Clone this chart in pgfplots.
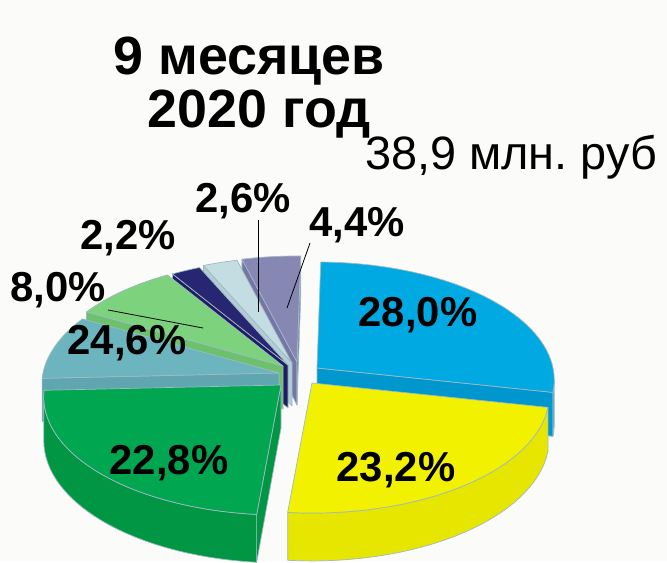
\documentclass[border=0pt]{standalone}
\usepackage{pgfplots}
\pgfplotsset{compat=1.18}
\usepackage{fontspec}
\setmainfont{Liberation Sans}
\frenchspacing

\definecolor{bg}{RGB}{251,251,249}
\definecolor{edgec}{RGB}{160,185,195}
\definecolor{blueT}{RGB}{0,169,226}
\definecolor{blueS}{RGB}{0,150,206}
\definecolor{yellowT}{RGB}{242,242,0}
\definecolor{yellowS}{RGB}{230,230,0}
\definecolor{greenT}{RGB}{0,166,80}
\definecolor{greenS}{RGB}{0,150,68}
\definecolor{tealT}{RGB}{108,180,190}
\definecolor{tealS}{RGB}{96,166,176}
\definecolor{lgreenT}{RGB}{125,211,125}
\definecolor{lgreenS}{RGB}{108,194,108}
\definecolor{navyT}{RGB}{38,38,115}
\definecolor{navyS}{RGB}{30,30,98}
\definecolor{lblueT}{RGB}{196,221,226}
\definecolor{lblueS}{RGB}{178,206,212}
\definecolor{purpleT}{RGB}{135,135,180}
\definecolor{purpleS}{RGB}{118,118,166}

% slice values (percent), clockwise from the top
\def\vBlue{28.0}
\def\vYellow{23.2}
\def\vGreen{22.8}
\def\vTeal{8.8}
\def\vLgreen{8.0}
\def\vNavy{2.2}
\def\vLblue{2.6}
\def\vPurple{4.4}

\pgfmathsetmacro\tA{89}
\pgfmathsetmacro\tB{\tA-3.6*\vBlue}
\pgfmathsetmacro\tC{\tB-3.6*\vYellow}
\pgfmathsetmacro\tD{\tC-3.6*\vGreen}
\pgfmathsetmacro\tE{\tD-3.6*\vTeal}
\pgfmathsetmacro\tF{\tE-3.6*\vLgreen}
\pgfmathsetmacro\tG{\tF-3.6*\vNavy}
\pgfmathsetmacro\tH{\tG-3.6*\vLblue}
\pgfmathsetmacro\tI{\tH-3.6*\vPurple}

\newcommand\topface[5]{%
  \addplot[fill=#5, draw=edgec, line width=0.7pt, line join=round, domain=#2:#1, samples=45, variable=\t]
    ({#3+PX(\t,1)}, {-#4+PY(\t,1,0)}) -- (axis cs:#3,-#4) -- cycle;}
\newcommand\radface[4]{%
  \addplot[fill=#4, draw=edgec, line width=0.7pt, line join=round, samples at={0,1,2,3}, variable=\s]
    ({#2+PX(#1,(\s>0.5)*(\s<2.5))}, {-#3+PY(#1,(\s>0.5)*(\s<2.5),-(\s>1.5))}) -- cycle;}
\newcommand\wall[5]{%
  \addplot[fill=#5, draw=edgec, line width=0.7pt, line join=round, samples at={0,1,...,61}, variable=\s]
    ({#3+PX(TH(\s,#1,#2),1)}, {-#4+PY(TH(\s,#1,#2),1,-(\s>30.5))}) -- cycle;}

\begin{document}
\begin{tikzpicture}
\begin{axis}[width=667bp, height=561bp, scale only axis,
  xmin=0, xmax=667, ymin=-561, ymax=0, hide axis, clip=false, no markers,
  declare function={
    PX(\ang,\rad)=236*\rad*cos(\ang)/(1+0.102*\rad*sin(\ang));
    PY(\ang,\rad,\zz)=(116.8*\rad*sin(\ang)+43*\zz)/(1+0.102*\rad*sin(\ang));
    TH(\ss,\aa,\bb)=(\ss<30.5)*(\aa+\ss/30*(\bb-\aa))+(\ss>30.5)*(\bb+(\ss-31)/30*(\aa-\bb));
  }]
\addplot[fill=bg, draw=none] coordinates {(0,0) (667,0) (667,-561) (0,-561)} -- cycle;

% purple 4.4
\radface{\tH}{297}{362}{purpleS}
\radface{\tI}{297}{362}{purpleS}
\topface{\tH}{\tI}{297}{362}{purpleT}
% light blue 2.6
\radface{\tG}{292}{363}{lblueS}
\topface{\tG}{\tH}{292}{363}{lblueT}
% navy 2.2
\radface{\tF}{288}{365}{navyS}
\topface{\tF}{\tG}{288}{365}{navyT}
% light green 8.0
\radface{\tE}{283}{366}{lgreenS}
\topface{\tE}{\tF}{283}{366}{lgreenT}
% teal
\radface{\tD}{279}{373}{tealS}
\topface{\tD}{\tE}{279}{373}{tealT}
% blue 28.0
\radface{\tB}{317}{368}{blueS}
\wall{-5.9}{\tB}{317}{368}{blueS}
\topface{\tA}{\tB}{317}{368}{blueT}
% green 22.8
\radface{\tC}{281}{385}{greenS}
\wall{\tC}{-174.1}{281}{385}{greenS}
\topface{\tC}{\tD}{281}{385}{greenT}
% yellow 23.2
\wall{\tB}{\tC}{312}{383}{yellowS}
\topface{\tB}{\tC}{312}{383}{yellowT}

% leader lines
\draw[black, line width=0.8pt] (axis cs:258,-220) -- (axis cs:258,-312);
\draw[black, line width=0.8pt] (axis cs:310,-243) -- (axis cs:287,-308);
\draw[black, line width=0.8pt] (axis cs:108,-310) -- (axis cs:203,-328);

% titles
\node[anchor=base, inner sep=0pt, font=\fontsize{54}{60}\selectfont\bfseries] at (axis cs:249,-75) {9 месяцев};
\node[anchor=base, inner sep=0pt, font=\fontsize{54}{60}\selectfont\bfseries] at (axis cs:259,-128) {2020 год};
\node[anchor=base west, inner sep=0pt, font=\fontsize{47}{56}\selectfont] at (axis cs:365,-170) {38,9 млн. руб};

% percentage labels
\tikzset{pl/.style={anchor=base, inner sep=0pt, font=\fontsize{42}{50}\selectfont\bfseries}}
\node[pl] at (axis cs:243,-213) {2,6\%};
\node[pl] at (axis cs:357,-237) {4,4\%};
\node[pl] at (axis cs:128,-250) {2,2\%};
\node[pl] at (axis cs:58,-302) {8,0\%};
\node[pl] at (axis cs:127,-355) {24,6\%};
\node[pl] at (axis cs:418,-327) {28,0\%};
\node[pl] at (axis cs:169,-475) {22,8\%};
\node[pl] at (axis cs:396,-482) {23,2\%};
\end{axis}
\end{tikzpicture}
\end{document}
